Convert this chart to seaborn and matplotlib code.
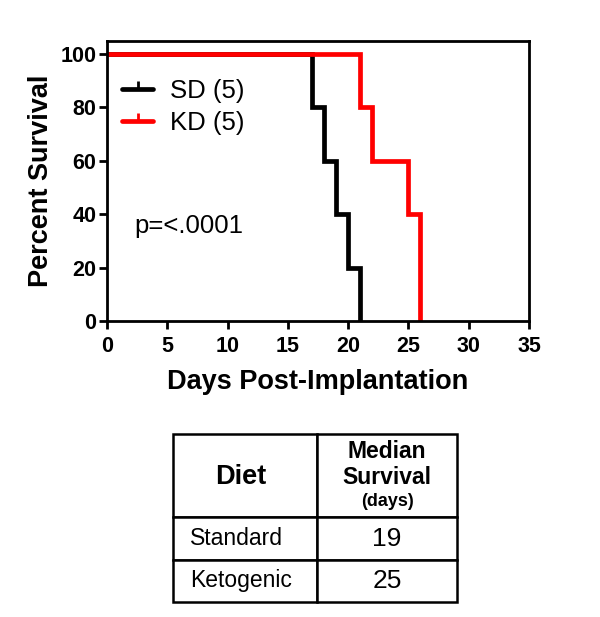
import matplotlib
matplotlib.use("Agg")
import matplotlib.pyplot as plt
from matplotlib.lines import Line2D
import numpy as np
import pandas as pd
import seaborn as sns

# survival time (days) of each animal
sd_days = [17, 18, 19, 20, 21]
kd_days = [21, 22, 25, 26, 26]
groups = ["SD (5)", "KD (5)"]
colors = ["black", "#ff0000"]

diets = ["Standard", "Ketogenic"]
median_survival = ["19", "25"]
p_text = "p=<.0001"


def km_steps(days, label):
    days = np.sort(np.asarray(days))
    t = [0]
    s = [100.0]
    for d in np.unique(days):
        at_risk = np.sum(days >= d)
        died = np.sum(days == d)
        t.append(d)
        s.append(s[-1] * (1 - died / at_risk))
    return pd.DataFrame({"day": t, "survival": s, "group": label})


df = pd.concat([km_steps(sd_days, groups[0]), km_steps(kd_days, groups[1])],
               ignore_index=True)

sns.set_style("ticks")
plt.rcParams["font.family"] = ["Liberation Sans", "DejaVu Sans"]
plt.rcParams["text.color"] = "black"
plt.rcParams["axes.labelcolor"] = "black"
plt.rcParams["xtick.color"] = "black"
plt.rcParams["ytick.color"] = "black"

fig = plt.figure(figsize=(6, 6.17), dpi=100)
ax = fig.add_axes([107 / 600, 1 - 321 / 617, 422 / 600, 280 / 617])

for g, c in zip(groups, colors):
    sns.lineplot(data=df[df["group"] == g], x="day", y="survival", color=c,
                 drawstyle="steps-post", linewidth=3.4, estimator=None,
                 sort=False, ax=ax, legend=False, solid_joinstyle="miter")

ax.set_xlim(0, 35)
ax.set_ylim(0, 104.9)
ax.set_xticks(range(0, 36, 5))
ax.set_yticks(range(0, 101, 20))
for sp in ax.spines.values():
    sp.set_linewidth(2)
    sp.set_color("black")
ax.tick_params(width=2, length=6, labelsize=15.5, direction="out")
ax.tick_params(axis="x", pad=4.5)
ax.tick_params(axis="y", pad=1.5)
for lab in ax.get_xticklabels() + ax.get_yticklabels():
    lab.set_fontweight("bold")
ax.set_xlabel("Days Post-Implantation", fontsize=19.5, fontweight="bold", labelpad=9)
ax.set_ylabel("Percent Survival", fontsize=19.5, fontweight="bold", labelpad=5)

handles = [Line2D([0], [0], color=c, lw=3.4, marker=2, markersize=6,
                  markeredgewidth=2) for c in colors]
ax.legend(handles, groups, loc="upper left", bbox_to_anchor=(0.036, 0.865),
          frameon=False, fontsize=18.5, handlelength=1.2, handletextpad=0.66,
          labelspacing=0.3, borderpad=0, borderaxespad=0)
ax.text(0.064, 0.34, p_text, transform=ax.transAxes, fontsize=18.5,
        va="center", ha="left")

# median survival table
tax = fig.add_axes([173 / 600, 1 - 602 / 617, 284 / 600, 168 / 617])
tax.axis("off")
cell_text = [["", ""]] + [[d, m] for d, m in zip(diets, median_survival)]
tbl = tax.table(cellText=cell_text, bbox=[0, 0, 1, 1], cellLoc="center")
tbl.auto_set_font_size(False)
heights = [83, 43, 42]
widths = [144, 140]
for (r, c), cell in tbl.get_celld().items():
    cell.set_height(heights[r])
    cell.set_width(widths[c])
    cell.set_linewidth(1.8)
    cell.set_edgecolor("black")
    cell.get_text().set_fontsize(19 if c == 1 else 16.5)
    if c == 0:
        cell.get_text().set_ha("left")
        cell.PAD = 0.12
tax.text(68 / 284, 1 - 43 / 168, "Diet", transform=tax.transAxes,
         ha="center", va="center", fontsize=19.5, fontweight="bold")
tax.text(214 / 284, 1 - 17 / 168, "Median", transform=tax.transAxes,
         ha="center", va="center", fontsize=16.5, fontweight="bold")
tax.text(214 / 284, 1 - 43 / 168, "Survival", transform=tax.transAxes,
         ha="center", va="center", fontsize=16.5, fontweight="bold")
tax.text(214 / 284, 1 - 67 / 168, "(days)", transform=tax.transAxes,
         ha="center", va="center", fontsize=13, fontweight="bold")

fig.savefig("out.png", dpi=100)
